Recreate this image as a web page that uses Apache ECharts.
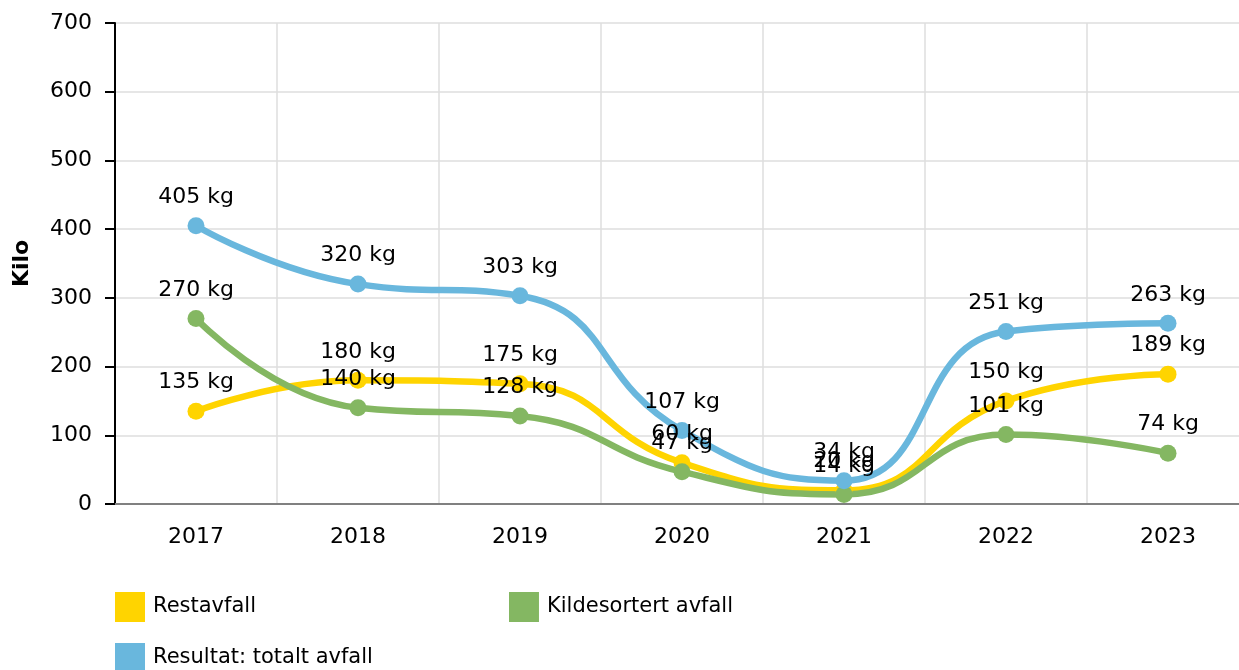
<!DOCTYPE html>
<html>
<head>
<meta charset="utf-8" />
<script src="https://cdn.jsdelivr.net/npm/echarts@6/dist/echarts.min.js"></script>
<title>Avfall</title>
<style>
  html, body { margin: 0; padding: 0; background: #fff; overflow: hidden; }
  /* the plot runs a little past the right edge of the window, as in the original */
  #main { width: 1249px; height: 670px; }
</style>
</head>
<body>
<div id="main"></div>
<script>
var years = ['2017', '2018', '2019', '2020', '2021', '2022', '2023'];
var restavfall = [135, 180, 175, 60, 20, 150, 189];
var kildesortert = [270, 140, 128, 47, 14, 101, 74];
var totalt = [405, 320, 303, 107, 34, 251, 263];
var yTicks = [0, 100, 200, 300, 400, 500, 600, 700];

var font = 'DejaVu Sans, Verdana, sans-serif';
var myChart = echarts.init(document.getElementById('main'));

function lineSeries(name, data, color) {
  return {
    name: name,
    type: 'line',
    data: data,
    smooth: 0.5,
    symbol: 'circle',
    symbolSize: 17,
    lineStyle: { width: 6.5, color: color },
    itemStyle: { color: color },
    label: {
      show: true,
      position: 'top',
      distance: 9,
      formatter: '{c} kg',
      color: '#000',
      fontFamily: font,
      fontSize: 22
    },
    emphasis: { disabled: true }
  };
}

var option = {
  animation: false,
  textStyle: { fontFamily: font },
  grid: { left: 115, top: 23, right: 0, bottom: 166 },
  legend: [
    {
      data: ['Restavfall', 'Kildesortert avfall'],
      left: 115, top: 592, padding: 0,
      icon: 'rect', itemWidth: 30, itemHeight: 30, itemGap: 253,
      textStyle: { fontFamily: font, fontSize: 21, color: '#000', padding: [0, 0, 0, 3] }
    },
    {
      data: ['Resultat: totalt avfall'],
      left: 115, top: 643, padding: 0,
      icon: 'rect', itemWidth: 30, itemHeight: 30,
      textStyle: { fontFamily: font, fontSize: 21, color: '#000', padding: [0, 0, 0, 3] }
    }
  ],
  xAxis: {
    type: 'category',
    data: years,
    axisLine: { lineStyle: { color: '#808080', width: 2 } },
    axisTick: { alignWithLabel: true, length: 9, lineStyle: { color: '#999' } },
    axisLabel: { color: '#000', fontSize: 22, margin: 22 },
    splitLine: { show: true, lineStyle: { color: '#dedede', width: 1.5 } }
  },
  yAxis: {
    type: 'value',
    min: 0, max: 700, interval: 100,
    name: 'Kilo',
    nameLocation: 'middle',
    nameGap: 82,
    nameTextStyle: { fontWeight: 'bold', fontSize: 22, color: '#000' },
    axisLine: { show: true, lineStyle: { color: '#000', width: 2 } },
    axisTick: { show: true, length: 10, lineStyle: { color: '#000', width: 2 } },
    axisLabel: {
      color: '#000', fontSize: 22, margin: 23,
      formatter: function (v) { return yTicks.indexOf(v) >= 0 ? String(v) : ''; }
    },
    splitLine: { lineStyle: { color: '#dedede', width: 1.5 } }
  },
  series: [
    lineSeries('Restavfall', restavfall, '#FFD400'),
    lineSeries('Kildesortert avfall', kildesortert, '#84B762'),
    lineSeries('Resultat: totalt avfall', totalt, '#69B7DD')
  ]
};

myChart.setOption(option);
</script>
</body>
</html>
